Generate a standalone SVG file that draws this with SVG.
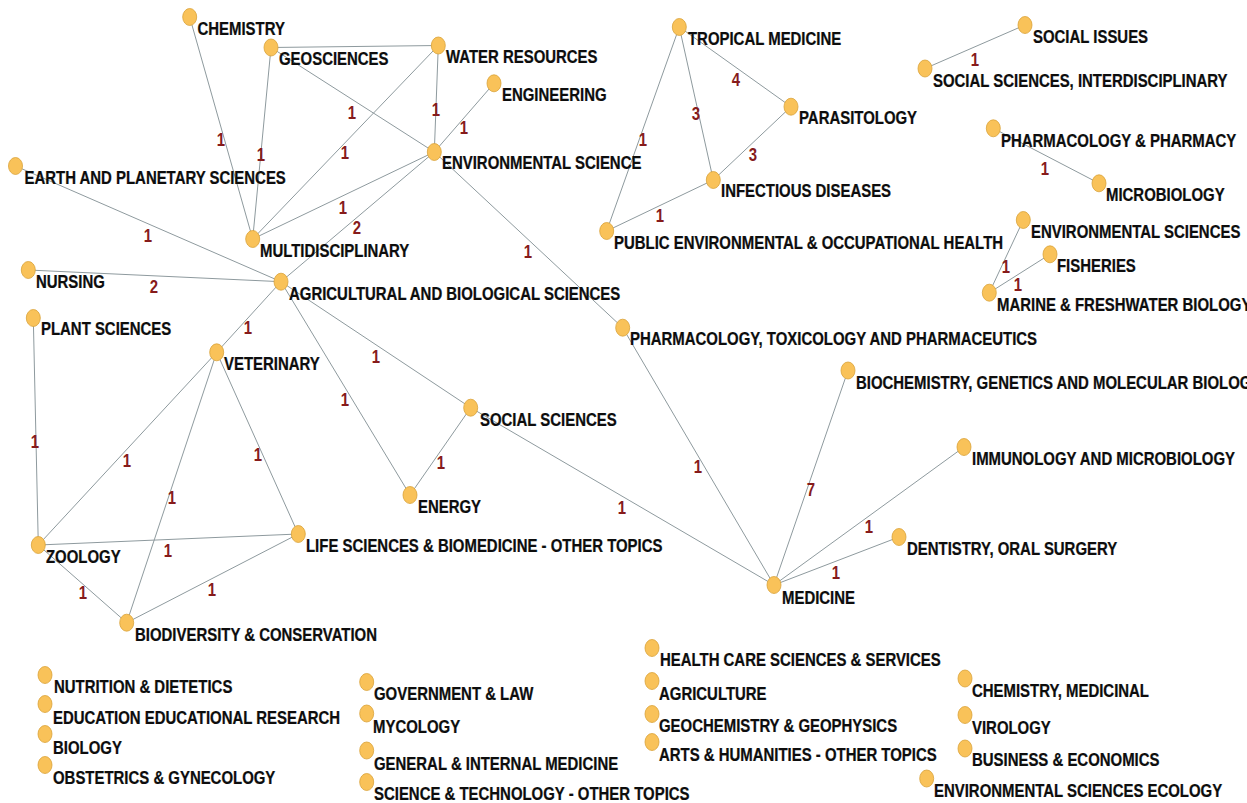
<svg xmlns="http://www.w3.org/2000/svg" width="1247" height="803" viewBox="0 0 1247 803">
  <style>
    .node ellipse { fill: #F9C259; stroke: #D9A238; stroke-width: 0.8; }
    .node text { font-family: "Liberation Sans", Arial, sans-serif; font-weight: bold; font-size: 18px; fill: #0d0d0d; stroke: #0d0d0d; stroke-width: 0.25; }
    .edges line { stroke: #8E9A9E; stroke-width: 1; }
    .edges text { font-family: "Liberation Sans", Arial, sans-serif; font-weight: bold; font-size: 18px; fill: #861B1B; text-anchor: middle; }
  </style>
  <rect width="1247" height="803" fill="#ffffff"/>

  <!-- connectors with their weights -->
  <g id="connectors" class="edges">
    <line x1="189.7" y1="17" x2="252.7" y2="239"/>
    <line x1="271" y1="47.5" x2="252.7" y2="239"/>
    <line x1="271" y1="47.5" x2="438.3" y2="45.5"/>
    <line x1="271" y1="47.5" x2="434.3" y2="152"/>
    <line x1="438.3" y1="45.5" x2="434.3" y2="152"/>
    <line x1="494" y1="83.3" x2="434.3" y2="152"/>
    <line x1="438.3" y1="45.5" x2="252.7" y2="239"/>
    <line x1="434.3" y1="152" x2="252.7" y2="239"/>
    <line x1="434.3" y1="152" x2="281" y2="281.7"/>
    <line x1="15.5" y1="166" x2="281" y2="281.7"/>
    <line x1="28.3" y1="270" x2="281" y2="281.7"/>
    <line x1="281" y1="281.7" x2="216.7" y2="352.3"/>
    <line x1="281" y1="281.7" x2="470.7" y2="407.7"/>
    <line x1="281" y1="281.7" x2="410" y2="495"/>
    <line x1="470.7" y1="407.7" x2="410" y2="495"/>
    <line x1="470.7" y1="407.7" x2="774" y2="585"/>
    <line x1="434.3" y1="152" x2="622.7" y2="327.7"/>
    <line x1="622.7" y1="327.7" x2="774" y2="585"/>
    <line x1="848" y1="370.5" x2="774" y2="585"/>
    <line x1="964" y1="447" x2="774" y2="585"/>
    <line x1="899" y1="537" x2="774" y2="585"/>
    <line x1="679.3" y1="27" x2="791" y2="106.7"/>
    <line x1="679.3" y1="27" x2="713.3" y2="180"/>
    <line x1="679.3" y1="27" x2="606.7" y2="231"/>
    <line x1="791" y1="106.7" x2="713.3" y2="180"/>
    <line x1="713.3" y1="180" x2="606.7" y2="231"/>
    <line x1="1025" y1="25" x2="925" y2="68.5"/>
    <line x1="993.3" y1="128.3" x2="1099" y2="183.3"/>
    <line x1="1023.3" y1="220" x2="989.3" y2="292.7"/>
    <line x1="1050" y1="254.3" x2="989.3" y2="292.7"/>
    <line x1="33.3" y1="318" x2="38.3" y2="545"/>
    <line x1="216.7" y1="352.3" x2="38.3" y2="545"/>
    <line x1="216.7" y1="352.3" x2="126.7" y2="622.7"/>
    <line x1="216.7" y1="352.3" x2="298.3" y2="534"/>
    <line x1="38.3" y1="545" x2="298.3" y2="534"/>
    <line x1="38.3" y1="545" x2="126.7" y2="622.7"/>
    <line x1="126.7" y1="622.7" x2="298.3" y2="534"/>

    <text transform="translate(221 146) scale(.83 1)">1</text>
    <text transform="translate(261 161) scale(.83 1)">1</text>
    <text transform="translate(352 119) scale(.83 1)">1</text>
    <text transform="translate(436 116) scale(.83 1)">1</text>
    <text transform="translate(464 134) scale(.83 1)">1</text>
    <text transform="translate(345 159) scale(.83 1)">1</text>
    <text transform="translate(343 214) scale(.83 1)">1</text>
    <text transform="translate(357 234) scale(.83 1)">2</text>
    <text transform="translate(148 242) scale(.83 1)">1</text>
    <text transform="translate(154 293) scale(.83 1)">2</text>
    <text transform="translate(248 334) scale(.83 1)">1</text>
    <text transform="translate(376 363) scale(.83 1)">1</text>
    <text transform="translate(345 406) scale(.83 1)">1</text>
    <text transform="translate(441 469) scale(.83 1)">1</text>
    <text transform="translate(622 514) scale(.83 1)">1</text>
    <text transform="translate(528 258) scale(.83 1)">1</text>
    <text transform="translate(698 473) scale(.83 1)">1</text>
    <text transform="translate(811 496) scale(.83 1)">7</text>
    <text transform="translate(869 533) scale(.83 1)">1</text>
    <text transform="translate(836 579) scale(.83 1)">1</text>
    <text transform="translate(736 86) scale(.83 1)">4</text>
    <text transform="translate(696 120) scale(.83 1)">3</text>
    <text transform="translate(643 146) scale(.83 1)">1</text>
    <text transform="translate(753 161) scale(.83 1)">3</text>
    <text transform="translate(660 222) scale(.83 1)">1</text>
    <text transform="translate(975 66) scale(.83 1)">1</text>
    <text transform="translate(1045 175) scale(.83 1)">1</text>
    <text transform="translate(1006 273) scale(.83 1)">1</text>
    <text transform="translate(1018 291) scale(.83 1)">1</text>
    <text transform="translate(35 448) scale(.83 1)">1</text>
    <text transform="translate(127 467) scale(.83 1)">1</text>
    <text transform="translate(172 504) scale(.83 1)">1</text>
    <text transform="translate(258 461) scale(.83 1)">1</text>
    <text transform="translate(168 557) scale(.83 1)">1</text>
    <text transform="translate(83 599) scale(.83 1)">1</text>
    <text transform="translate(212 596) scale(.83 1)">1</text>
  </g>

  <!-- linked subject nodes -->
  <g id="n-chemistry" class="node"><ellipse cx="189.7" cy="17" rx="7" ry="8.5"/><text transform="translate(197.5 35) scale(.83 1)">CHEMISTRY</text></g>
  <g id="n-geosciences" class="node"><ellipse cx="271" cy="47.5" rx="7" ry="8.5"/><text transform="translate(279 65) scale(.83 1)">GEOSCIENCES</text></g>
  <g id="n-water-resources" class="node"><ellipse cx="438.3" cy="45.5" rx="7" ry="8.5"/><text transform="translate(446 63) scale(.83 1)">WATER RESOURCES</text></g>
  <g id="n-engineering" class="node"><ellipse cx="494" cy="83.3" rx="7" ry="8.5"/><text transform="translate(502 101) scale(.83 1)">ENGINEERING</text></g>
  <g id="n-environmental-science" class="node"><ellipse cx="434.3" cy="152" rx="7" ry="8.5"/><text transform="translate(442 169) scale(.83 1)">ENVIRONMENTAL SCIENCE</text></g>
  <g id="n-earth-planetary" class="node"><ellipse cx="15.5" cy="166" rx="7" ry="8.5"/><text transform="translate(24.5 184) scale(.83 1)">EARTH AND PLANETARY SCIENCES</text></g>
  <g id="n-multidisciplinary" class="node"><ellipse cx="252.7" cy="239" rx="7" ry="8.5"/><text transform="translate(260 257) scale(.83 1)">MULTIDISCIPLINARY</text></g>
  <g id="n-nursing" class="node"><ellipse cx="28.3" cy="270" rx="7" ry="8.5"/><text transform="translate(36 288) scale(.83 1)">NURSING</text></g>
  <g id="n-agricultural-biological" class="node"><ellipse cx="281" cy="281.7" rx="7" ry="8.5"/><text transform="translate(289 300) scale(.83 1)">AGRICULTURAL AND BIOLOGICAL SCIENCES</text></g>
  <g id="n-plant-sciences" class="node"><ellipse cx="33.3" cy="318" rx="7" ry="8.5"/><text transform="translate(41 335) scale(.83 1)">PLANT SCIENCES</text></g>
  <g id="n-veterinary" class="node"><ellipse cx="216.7" cy="352.3" rx="7" ry="8.5"/><text transform="translate(224 370) scale(.83 1)">VETERINARY</text></g>
  <g id="n-social-sciences" class="node"><ellipse cx="470.7" cy="407.7" rx="7" ry="8.5"/><text transform="translate(480 426) scale(.83 1)">SOCIAL SCIENCES</text></g>
  <g id="n-energy" class="node"><ellipse cx="410" cy="495" rx="7" ry="8.5"/><text transform="translate(418 513) scale(.83 1)">ENERGY</text></g>
  <g id="n-zoology" class="node"><ellipse cx="38.3" cy="545" rx="7" ry="8.5"/><text transform="translate(46 563) scale(.83 1)">ZOOLOGY</text></g>
  <g id="n-life-sciences" class="node"><ellipse cx="298.3" cy="534" rx="7" ry="8.5"/><text transform="translate(306 552) scale(.83 1)">LIFE SCIENCES &amp; BIOMEDICINE - OTHER TOPICS</text></g>
  <g id="n-biodiversity" class="node"><ellipse cx="126.7" cy="622.7" rx="7" ry="8.5"/><text transform="translate(135 641) scale(.83 1)">BIODIVERSITY &amp; CONSERVATION</text></g>
  <g id="n-pharm-tox" class="node"><ellipse cx="622.7" cy="327.7" rx="7" ry="8.5"/><text transform="translate(630 345) scale(.83 1)">PHARMACOLOGY, TOXICOLOGY AND PHARMACEUTICS</text></g>
  <g id="n-tropical-medicine" class="node"><ellipse cx="679.3" cy="27" rx="7" ry="8.5"/><text transform="translate(688 45) scale(.83 1)">TROPICAL MEDICINE</text></g>
  <g id="n-parasitology" class="node"><ellipse cx="791" cy="106.7" rx="7" ry="8.5"/><text transform="translate(799 124) scale(.83 1)">PARASITOLOGY</text></g>
  <g id="n-infectious-diseases" class="node"><ellipse cx="713.3" cy="180" rx="7" ry="8.5"/><text transform="translate(721 197) scale(.83 1)">INFECTIOUS DISEASES</text></g>
  <g id="n-public-health" class="node"><ellipse cx="606.7" cy="231" rx="7" ry="8.5"/><text transform="translate(614 249) scale(.83 1)">PUBLIC ENVIRONMENTAL &amp; OCCUPATIONAL HEALTH</text></g>
  <g id="n-social-interdisciplinary" class="node"><ellipse cx="925" cy="68.5" rx="7" ry="8.5"/><text transform="translate(933 87) scale(.83 1)">SOCIAL SCIENCES, INTERDISCIPLINARY</text></g>
  <g id="n-social-issues" class="node"><ellipse cx="1025" cy="25" rx="7" ry="8.5"/><text transform="translate(1033 43) scale(.83 1)">SOCIAL ISSUES</text></g>
  <g id="n-pharmacy" class="node"><ellipse cx="993.3" cy="128.3" rx="7" ry="8.5"/><text transform="translate(1001 147) scale(.83 1)">PHARMACOLOGY &amp; PHARMACY</text></g>
  <g id="n-microbiology" class="node"><ellipse cx="1099" cy="183.3" rx="7" ry="8.5"/><text transform="translate(1106 201) scale(.83 1)">MICROBIOLOGY</text></g>
  <g id="n-environmental-sciences" class="node"><ellipse cx="1023.3" cy="220" rx="7" ry="8.5"/><text transform="translate(1031 238) scale(.83 1)">ENVIRONMENTAL SCIENCES</text></g>
  <g id="n-fisheries" class="node"><ellipse cx="1050" cy="254.3" rx="7" ry="8.5"/><text transform="translate(1057 272) scale(.83 1)">FISHERIES</text></g>
  <g id="n-marine-freshwater" class="node"><ellipse cx="989.3" cy="292.7" rx="7" ry="8.5"/><text transform="translate(997 311) scale(.83 1)">MARINE &amp; FRESHWATER BIOLOGY</text></g>
  <g id="n-biochemistry" class="node"><ellipse cx="848" cy="370.5" rx="7" ry="8.5"/><text transform="translate(856 389) scale(.83 1)">BIOCHEMISTRY, GENETICS AND MOLECULAR BIOLOGY</text></g>
  <g id="n-immunology" class="node"><ellipse cx="964" cy="447" rx="7" ry="8.5"/><text transform="translate(972 465) scale(.83 1)">IMMUNOLOGY AND MICROBIOLOGY</text></g>
  <g id="n-dentistry" class="node"><ellipse cx="899" cy="537" rx="7" ry="8.5"/><text transform="translate(907 555) scale(.83 1)">DENTISTRY, ORAL SURGERY</text></g>
  <g id="n-medicine" class="node"><ellipse cx="774" cy="585" rx="7" ry="8.5"/><text transform="translate(782 604) scale(.83 1)">MEDICINE</text></g>

  <!-- isolated subject nodes -->
  <g id="n-nutrition" class="node"><ellipse cx="45" cy="675" rx="7" ry="8.5"/><text transform="translate(54 693) scale(.83 1)">NUTRITION &amp; DIETETICS</text></g>
  <g id="n-education" class="node"><ellipse cx="45" cy="704" rx="7" ry="8.5"/><text transform="translate(53 724) scale(.83 1)">EDUCATION EDUCATIONAL RESEARCH</text></g>
  <g id="n-biology" class="node"><ellipse cx="45" cy="734" rx="7" ry="8.5"/><text transform="translate(53 754) scale(.83 1)">BIOLOGY</text></g>
  <g id="n-obstetrics" class="node"><ellipse cx="45" cy="765" rx="7" ry="8.5"/><text transform="translate(53 784) scale(.83 1)">OBSTETRICS &amp; GYNECOLOGY</text></g>
  <g id="n-government" class="node"><ellipse cx="366.7" cy="682" rx="7" ry="8.5"/><text transform="translate(374 700) scale(.83 1)">GOVERNMENT &amp; LAW</text></g>
  <g id="n-mycology" class="node"><ellipse cx="366.7" cy="713.5" rx="7" ry="8.5"/><text transform="translate(373 733) scale(.83 1)">MYCOLOGY</text></g>
  <g id="n-general-medicine" class="node"><ellipse cx="366.7" cy="750.5" rx="7" ry="8.5"/><text transform="translate(374 770) scale(.83 1)">GENERAL &amp; INTERNAL MEDICINE</text></g>
  <g id="n-science-technology" class="node"><ellipse cx="366.7" cy="782" rx="7" ry="8.5"/><text transform="translate(374 800) scale(.83 1)">SCIENCE &amp; TECHNOLOGY - OTHER TOPICS</text></g>
  <g id="n-health-care" class="node"><ellipse cx="652" cy="648" rx="7" ry="8.5"/><text transform="translate(660 666) scale(.83 1)">HEALTH CARE SCIENCES &amp; SERVICES</text></g>
  <g id="n-agriculture" class="node"><ellipse cx="652" cy="681" rx="7" ry="8.5"/><text transform="translate(659 700) scale(.83 1)">AGRICULTURE</text></g>
  <g id="n-geochemistry" class="node"><ellipse cx="652" cy="714" rx="7" ry="8.5"/><text transform="translate(659 732) scale(.83 1)">GEOCHEMISTRY &amp; GEOPHYSICS</text></g>
  <g id="n-arts-humanities" class="node"><ellipse cx="652" cy="742" rx="7" ry="8.5"/><text transform="translate(659 761) scale(.83 1)">ARTS &amp; HUMANITIES - OTHER TOPICS</text></g>
  <g id="n-chemistry-medicinal" class="node"><ellipse cx="965" cy="678.5" rx="7" ry="8.5"/><text transform="translate(972 697) scale(.83 1)">CHEMISTRY, MEDICINAL</text></g>
  <g id="n-virology" class="node"><ellipse cx="965" cy="715" rx="7" ry="8.5"/><text transform="translate(972 734) scale(.83 1)">VIROLOGY</text></g>
  <g id="n-business" class="node"><ellipse cx="965" cy="748.5" rx="7" ry="8.5"/><text transform="translate(972 766) scale(.83 1)">BUSINESS &amp; ECONOMICS</text></g>
  <g id="n-env-ecology" class="node"><ellipse cx="926.7" cy="778.5" rx="7" ry="8.5"/><text transform="translate(934 797) scale(.83 1)">ENVIRONMENTAL SCIENCES ECOLOGY</text></g>
</svg>
